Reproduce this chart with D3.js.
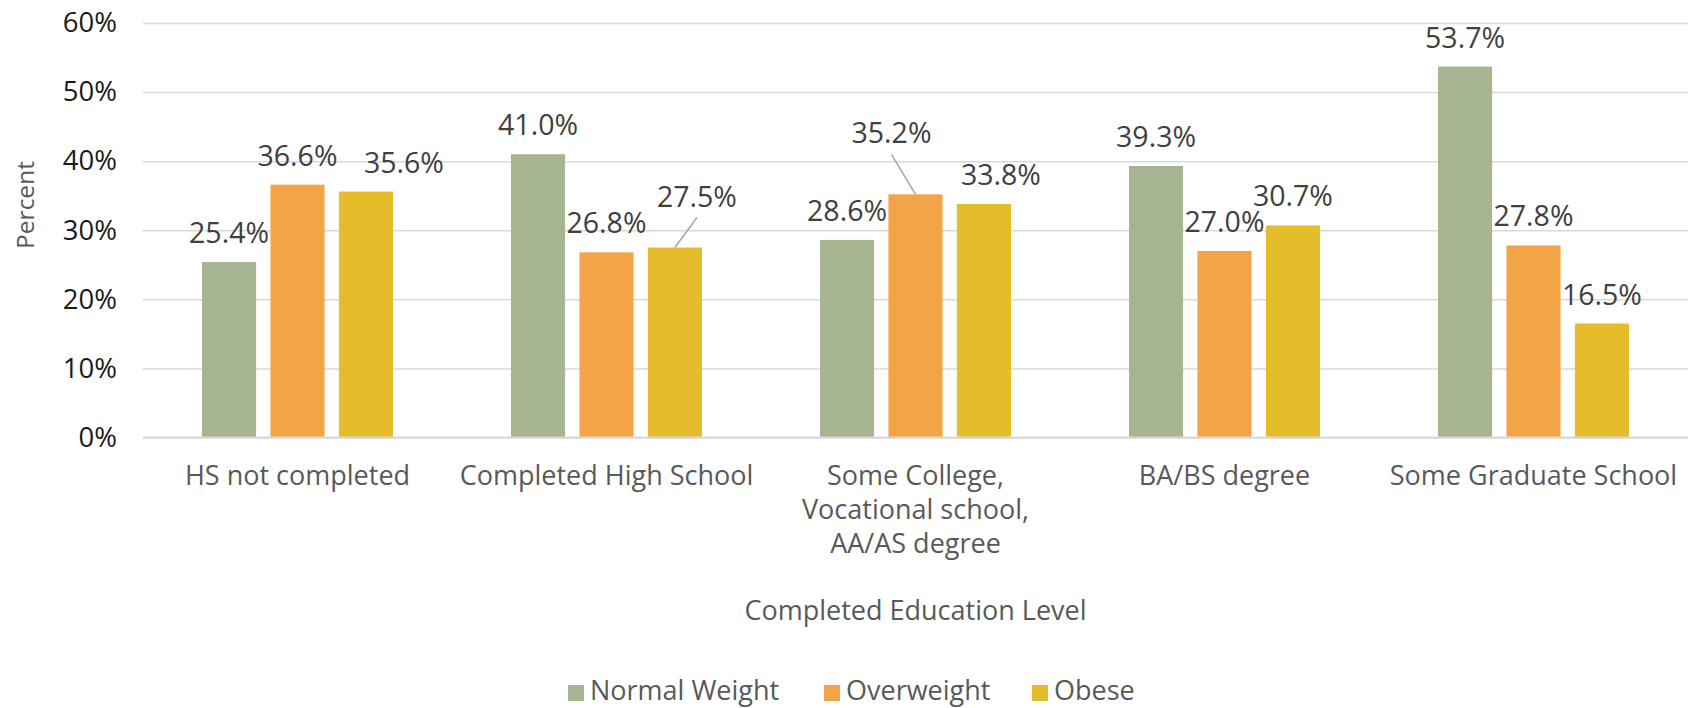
<!DOCTYPE html>
<html lang="en">
<head>
    <meta charset="utf-8">
    <script src="https://cdn.jsdelivr.net/npm/d3@7"></script>
    <style type="text/css">
        body { margin: 0; background: #ffffff; }
        text { font-family: "Open Sans", "DejaVu Sans", sans-serif; }
    </style>
</head>
<body>
    <script>
        // chart data
        const categories = [
            "HS not completed",
            "Completed High School",
            "Some College, Vocational school, AA/AS degree",
            "BA/BS degree",
            "Some Graduate School"
        ];
        const categoryLines = [
            ["HS not completed"],
            ["Completed High School"],
            ["Some College,", "Vocational school,", "AA/AS degree"],
            ["BA/BS degree"],
            ["Some Graduate School"]
        ];
        const seriesNames = ["Normal Weight", "Overweight", "Obese"];
        const normalWeight = [25.4, 41.0, 28.6, 39.3, 53.7];
        const overweight = [36.6, 26.8, 35.2, 27.0, 27.8];
        const obese = [35.6, 27.5, 33.8, 30.7, 16.5];
        const yTicks = [0, 10, 20, 30, 40, 50, 60];

        const colors = ["#A6B492", "#F2A447", "#E5BC29"];
        // labels moved off their default spot ("category|series": [dx, dy]);
        // the ones moved up get a leader line
        const labelNudge = { "0|2": [38, 0], "1|2": [22, -22], "2|1": [-24, -32], "2|2": [17, 0] };

        let w = 1695;
        let h = 708;
        let svg = d3.select("body")
                    .append("svg")
                    .attr("width", w)
                    .attr("height", h);

        let plotL = 143, plotR = 1688, plotT = 23, plotB = 437.5;

        let rows = [];
        categories.forEach((c, i) => {
            rows.push({ ci: i, si: 0, value: normalWeight[i] });
            rows.push({ ci: i, si: 1, value: overweight[i] });
            rows.push({ ci: i, si: 2, value: obese[i] });
        });

        let xScale = d3.scaleBand()
                        .domain(d3.range(categories.length))
                        .range([plotL, plotR])
                        .padding(0);
        let inner = d3.scaleBand()
                        .domain(d3.range(seriesNames.length))
                        .range([59, xScale.bandwidth() - 59])
                        .paddingInner(0.21);
        let yScale = d3.scaleLinear()
                        .domain([0, 60])
                        .range([plotB, plotT]);

        // gridlines + y tick labels
        let yAxis = d3.axisLeft(yScale)
                        .tickValues(yTicks)
                        .tickSize(-(plotR - plotL))
                        .tickPadding(26)
                        .tickFormat((d) => d + "%");
        let gy = svg.append("g")
                    .attr("transform", "translate(" + plotL + ",0)")
                    .call(yAxis);
        gy.select(".domain").remove();
        gy.selectAll(".tick line")
            .attr("stroke", "#D9D9D9")
            .attr("stroke-width", 1.5);
        gy.selectAll(".tick text")
            .attr("font-size", "27.5px")
            .attr("fill", "#1a1a1a")
            .attr("font-family", "Open Sans, sans-serif");

        // bars
        svg.selectAll("rect.bar")
            .data(rows)
            .enter()
            .append("rect")
            .attr("class", "bar")
            .attr("x", (d) => xScale(d.ci) + inner(d.si))
            .attr("y", (d) => yScale(d.value))
            .attr("width", inner.bandwidth())
            .attr("height", (d) => plotB - yScale(d.value))
            .attr("fill", (d) => colors[d.si]);

        // baseline axis
        svg.append("line")
            .attr("x1", plotL).attr("x2", plotR)
            .attr("y1", plotB).attr("y2", plotB)
            .attr("stroke", "#D9D9D9")
            .attr("stroke-width", 2);

        // data labels
        let lbl = svg.append("g");
        rows.forEach((d) => {
            let cx = xScale(d.ci) + inner(d.si) + inner.bandwidth() / 2;
            let ty = yScale(d.value);
            let n = labelNudge[d.ci + "|" + d.si] || [0, 0];
            let lx = cx + n[0];
            let ly = ty - 19 + n[1];
            if (n[1] !== 0) {
                lbl.append("line")
                    .attr("x1", cx).attr("y1", ty)
                    .attr("x2", lx).attr("y2", ly + 11)
                    .attr("stroke", "#A6A6A6")
                    .attr("stroke-width", 1.5);
            }
            lbl.append("text")
                .attr("x", lx)
                .attr("y", ly)
                .attr("text-anchor", "middle")
                .attr("font-size", "28.5px")
                .attr("fill", "#404040")
                .text(d.value.toFixed(1) + "%");
        });

        // category labels
        let cat = svg.append("g");
        categoryLines.forEach((lines, i) => {
            let t = cat.append("text")
                .attr("x", xScale(i) + xScale.bandwidth() / 2)
                .attr("y", 485)
                .attr("text-anchor", "middle")
                .attr("font-size", "27px")
                .attr("fill", "#595959");
            lines.forEach((s, k) => {
                t.append("tspan")
                    .attr("x", xScale(i) + xScale.bandwidth() / 2)
                    .attr("dy", k === 0 ? 0 : 34)
                    .text(s);
            });
        });

        // axis titles
        svg.append("text")
            .attr("x", (plotL + plotR) / 2)
            .attr("y", 620)
            .attr("text-anchor", "middle")
            .attr("font-size", "27px")
            .attr("fill", "#595959")
            .text("Completed Education Level");

        svg.append("text")
            .attr("x", 0)
            .attr("y", 0)
            .attr("transform", "translate(34,205) rotate(-90)")
            .attr("text-anchor", "middle")
            .attr("font-size", "24.5px")
            .attr("fill", "#595959")
            .text("Percent");

        // legend
        let legendX = [568, 824, 1032];
        let leg = svg.append("g");
        seriesNames.forEach((s, i) => {
            leg.append("rect")
                .attr("x", legendX[i])
                .attr("y", 685)
                .attr("width", 16)
                .attr("height", 16)
                .attr("fill", colors[i]);
            leg.append("text")
                .attr("x", legendX[i] + 22)
                .attr("y", 700)
                .attr("font-size", "27px")
                .attr("fill", "#595959")
                .text(s);
        });
    </script>
</body>
</html>
